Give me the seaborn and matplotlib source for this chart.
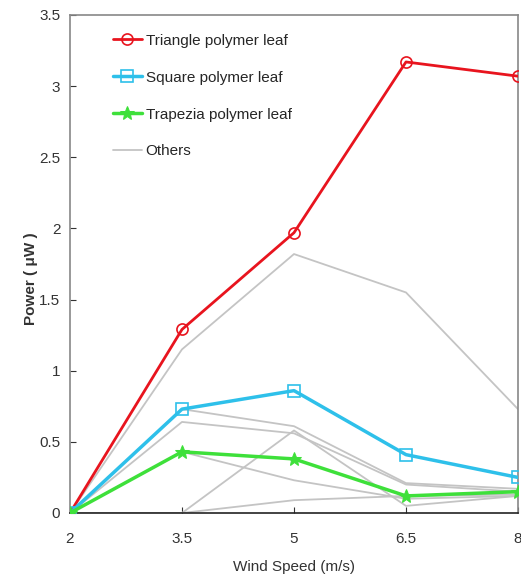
import matplotlib
matplotlib.use("Agg")
import matplotlib.pyplot as plt
import seaborn as sns
import pandas as pd

wind_speed = [2, 3.5, 5, 6.5, 8]
triangle = [0.0, 1.29, 1.97, 3.17, 3.07]
square = [0.0, 0.73, 0.86, 0.41, 0.25]
trapezia = [0.0, 0.43, 0.38, 0.12, 0.15]
others = [
    [0.0, 1.15, 1.82, 1.55, 0.73],
    [0.0, 0.73, 0.61, 0.21, 0.17],
    [0.0, 0.64, 0.56, 0.20, 0.15],
    [0.0, 0.0, 0.58, 0.05, 0.12],
    [0.0, 0.0, 0.09, 0.12, 0.13],
    [0.0, 0.43, 0.23, 0.10, 0.12],
]
x_ticks = [2, 3.5, 5, 6.5, 8]
x_tick_labels = ["2", "3.5", "5", "6.5", "8"]
y_ticks = [0, 0.5, 1, 1.5, 2, 2.5, 3, 3.5]
y_tick_labels = ["0", "0.5", "1", "1.5", "2", "2.5", "3", "3.5"]

sns.set_style("ticks")
plt.rcParams["font.family"] = ["Liberation Sans", "DejaVu Sans"]

fig = plt.figure(figsize=(5.21, 5.80), dpi=100)
ax = fig.add_axes([70 / 521, 1 - 513 / 580, (518 - 70) / 521, (513 - 15) / 580])

for i, vals in enumerate(others):
    df = pd.DataFrame({"x": wind_speed, "y": vals})
    sns.lineplot(data=df, x="x", y="y", ax=ax, color="#c4c4c4", lw=1.3,
                 label="Others" if i == 0 else None, zorder=2)

df = pd.DataFrame({"x": wind_speed, "y": triangle})
sns.lineplot(data=df, x="x", y="y", ax=ax, color="#e8141e", lw=2, marker="o",
             markersize=8, markerfacecolor="none", markeredgecolor="#e8141e",
             markeredgewidth=1.2, label="Triangle polymer leaf", zorder=4)
df = pd.DataFrame({"x": wind_speed, "y": square})
sns.lineplot(data=df, x="x", y="y", ax=ax, color="#2ec0ea", lw=2.5, marker="s",
             markersize=8, markerfacecolor="none", markeredgecolor="#2ec0ea",
             markeredgewidth=1.2, label="Square polymer leaf", zorder=4)
df = pd.DataFrame({"x": wind_speed, "y": trapezia})
sns.lineplot(data=df, x="x", y="y", ax=ax, color="#3ee03a", lw=2.5, marker="*",
             markersize=10, markeredgecolor="#3ee03a",
             label="Trapezia polymer leaf", zorder=4)

ax.set_xlim(2, 8)
ax.set_ylim(0, 3.5)
ax.set_xticks(x_ticks)
ax.set_xticklabels(x_tick_labels)
ax.set_yticks(y_ticks)
ax.set_yticklabels(y_tick_labels)
ax.tick_params(direction="in", length=4, labelsize=11, colors="#333333")
ax.tick_params(axis="y", pad=7)
ax.tick_params(axis="x", pad=14)
for s in ax.spines.values():
    s.set_color("#888888")
    s.set_linewidth(1.2)
ax.spines["bottom"].set_color("#222222")

ax.set_xlabel("Wind Speed (m/s)", fontsize=11, color="#333333", labelpad=10)
ax.set_ylabel("Power ( μW )", fontsize=11, fontweight="bold", color="#333333")
ax.yaxis.set_label_coords(-0.072, 0.47)

handles, labels = ax.get_legend_handles_labels()
order = [labels.index(l) for l in ["Triangle polymer leaf", "Square polymer leaf",
                                   "Trapezia polymer leaf", "Others"]]
ax.legend([handles[i] for i in order], [labels[i] for i in order],
          loc="upper left", bbox_to_anchor=(0.065, 0.99), frameon=False,
          fontsize=11, labelspacing=1.5, handlelength=1.9, handletextpad=0.25)

fig.savefig("out.png", dpi=100)
